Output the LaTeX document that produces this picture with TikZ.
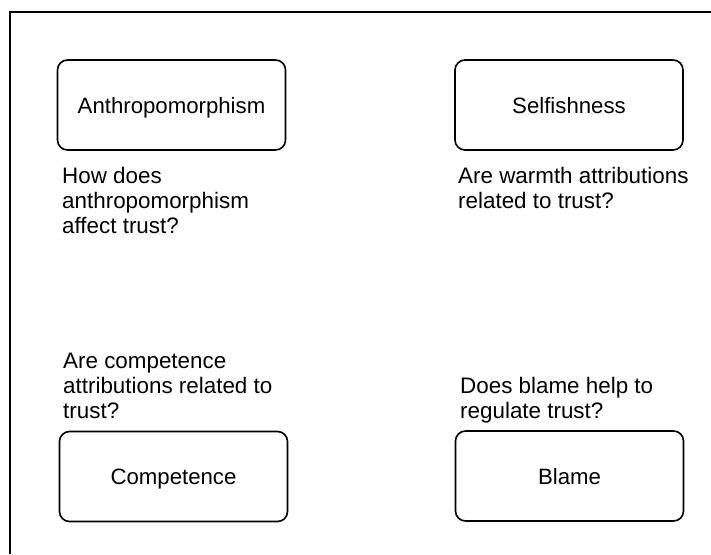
\documentclass[tikz,border=0pt]{standalone}
\usepackage{fontspec}
\setmainfont{Liberation Sans}
\begin{document}
\begin{tikzpicture}[x=1pt,y=-1pt,
  topic/.style={draw=black,line width=1.6pt,rounded corners=10pt,minimum width=228pt,minimum height=90pt,inner sep=0pt,text height=16pt,text depth=0pt,font=\fontsize{22.2}{25}\selectfont},
  question/.style={anchor=base west,inner sep=0pt,align=left,font=\fontsize{22.4}{25}\selectfont}]
\useasboundingbox (0,0) rectangle (711,554);
\draw[line width=1.5pt] (10,554) -- (10,12) -- (711,12);
\node[topic] (anth) at (171.5,105) {Anthropomorphism};
\node[topic] (self) at (569,105) {Selfishness};
\node[topic] (comp) at (173.5,476.5) {Competence};
\node[topic] (blame) at (569.5,476) {Blame};
\node[question] (qanth) at (62,233) {How does\\anthropomorphism\\affect trust?};
\node[question] (qself) at (458,208) {Are warmth attributions\\related to trust?};
\node[question] (qcomp) at (63,418) {Are competence\\attributions related to\\trust?};
\node[question] (qblame) at (460,418) {Does blame help to\\regulate trust?};
\end{tikzpicture}
\end{document}
